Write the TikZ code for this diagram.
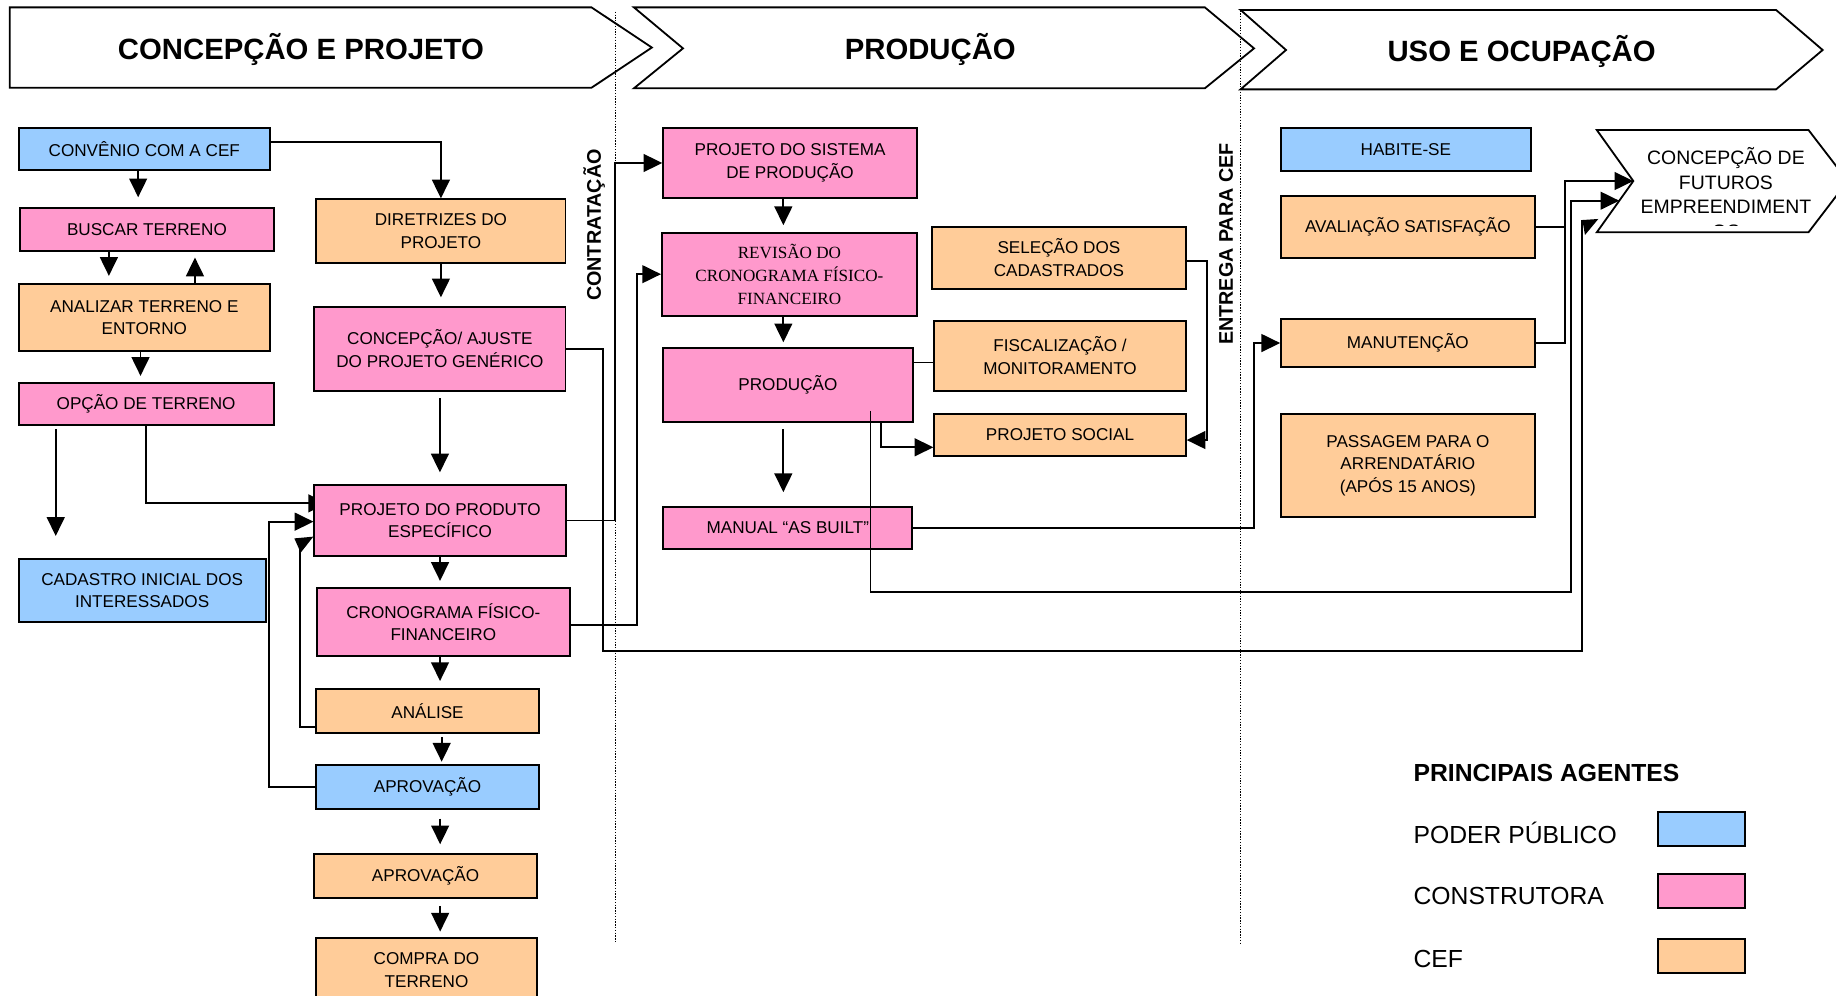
\documentclass[tikz,border=0pt]{standalone}
\usepackage{fontspec}
\setmainfont{Liberation Sans}
\newfontfamily\serifbox{Liberation Serif}
\usetikzlibrary{arrows.meta,calc}
\definecolor{cblue}{HTML}{99CCFF}
\definecolor{cpink}{HTML}{FF99CC}
\definecolor{corange}{HTML}{FFCC99}
\pgfdeclarelayer{bg}
\pgfsetlayers{bg,main}
\tikzset{
  box/.style={draw, line width=1.1pt, inner sep=0pt, align=center, font=\fontsize{10.4}{13.7}\selectfont},
  sz/.style 2 args={minimum width=#1*0.025cm, minimum height=#2*0.025cm},
  pb/.style={box, fill=cblue},
  ct/.style={box, fill=cpink},
  cf/.style={box, fill=corange},
  conn/.style={line width=1.1pt},
  arr/.style={conn, -{Triangle[length=0.4cm,width=0.38cm]}},
  hdr/.style={draw, line width=1.1pt, fill=white},
  dotline/.style={line width=0.7pt, dash pattern=on 0.8pt off 0.9pt},
  title/.style={font=\bfseries\fontsize{17.8}{20}\selectfont},
  vlabel/.style={rotate=90, font=\bfseries\fontsize{12}{14}\selectfont},
  legtext/.style={anchor=base west, inner sep=0pt, font=\fontsize{15}{18}\selectfont},
}
\begin{document}
\begin{tikzpicture}[x=0.025cm, y=-0.025cm]
\useasboundingbox (0,0) rectangle (1568,850);
\clip (0,0) rectangle (1568,850);

% ---------- phase headers ----------
\draw[hdr] (8.4,6.3) -- (505.2,6.3) -- (556.7,40.6) -- (505.2,74.9) -- (8.4,74.9) -- cycle;
\draw[hdr] (541.4,6.3) -- (1029,6.3) -- (1071,41.3) -- (1029,75.4) -- (541.4,75.4) -- (583.3,41.3) -- cycle;
\draw[hdr] (1059.5,8.5) -- (1516.8,8.5) -- (1556.6,42.7) -- (1516.8,76.3) -- (1059.5,76.3) -- (1098.3,42.7) -- cycle;
\node[title] (h1) at (257,42) {CONCEPÇÃO E PROJETO};
\node[title] (h2) at (794.5,42) {PRODUÇÃO};
\node[title] (h3) at (1299.5,44) {USO E OCUPAÇÃO};

% ---------- dotted milestone lines ----------
\draw[dotline] (525.4,10) -- (525.4,805.6);
\draw[dotline] (1059.5,9) -- (1059.5,805.6);
\node[vlabel] (contr) at (507.4,192.2) {CONTRATAÇÃO};
\node[vlabel] (entr) at (1047,208.5) {ENTREGA PARA CEF};

% ---------- future projects shape ----------
\draw[hdr] (1363.7,111) -- (1544.5,111) -- (1578,154.6) -- (1544.5,198.4) -- (1363.7,198.4) -- (1394.9,154.6) -- cycle;
\coordinate (notch) at (1394.9,154.6);
\coordinate (fin2) at (1382.9,171.4);
\coordinate (fin3) at (1350.8,188);
\begin{scope}
  \clip (1360,105) rectangle (1570,192.8);
  \node[align=center, inner sep=0pt, font=\fontsize{11.8}{14.94}\selectfont] (fut) at (1474,165) {CONCEPÇÃO DE\\FUTUROS\\EMPREENDIMENT\\OS};
\end{scope}

% ---------- boxes ----------
\node[pb, sz={214.7}{35.9}] (conv) at (123.25,127.55) {CONVÊNIO COM A CEF};
\node[ct, sz={217}{36.7}] (busc) at (125.5,196) {BUSCAR TERRENO};
\node[cf, sz={214.7}{56.7}] (anal) at (123.25,271.15) {ANALIZAR TERRENO E\\ENTORNO};
\node[ct, sz={217.8}{35.6}] (opc) at (124.8,345.2) {OPÇÃO DE TERRENO};
\node[pb, sz={211}{53.2}] (cad) at (121.4,504.3) {CADASTRO INICIAL DOS\\INTERESSADOS};

\node[cf, sz={212.7}{54.7}] (dir) at (376.55,197.55) {DIRETRIZES DO\\PROJETO};
\node[ct, sz={214.4}{71.8}] (concep) at (375.7,297.8) {CONCEPÇÃO/ AJUSTE\\DO PROJETO GENÉRICO};
\node[ct, sz={214.6}{60.6}] (prod) at (375.8,444.5) {PROJETO DO PRODUTO\\ESPECÍFICO};
\node[ct, sz={216.4}{57.7}] (crono) at (378.6,531.35) {CRONOGRAMA FÍSICO-\\FINANCEIRO};
\node[cf, sz={189.8}{37.3}] (anali) at (365.1,607.05) {ANÁLISE};
\node[pb, sz={189.8}{37.9}] (aprova) at (365.1,672.25) {APROVAÇÃO};
\node[cf, sz={189.8}{37.8}] (aprovb) at (363.4,748.3) {APROVAÇÃO};
\node[cf, sz={188.1}{55.4}] (compra) at (364.25,828.5) {COMPRA DO\\TERRENO};

\node[ct, sz={216.7}{59.2}] (sist) at (674.75,139.2) {PROJETO DO SISTEMA\\DE PRODUÇÃO};
\node[ct, sz={217.8}{70.9}, font=\serifbox\fontsize{10.4}{13.9}\selectfont] (rev) at (674.2,234.15) {REVISÃO DO\\CRONOGRAMA FÍSICO-\\FINANCEIRO};
\node[ct, sz={213}{62.6}] (producao) at (672.9,328.8) {PRODUÇÃO};
\node[ct, sz={212.6}{36.2}] (manual) at (672.8,450.8) {MANUAL “AS BUILT”};
\node[cf, sz={216.7}{53.2}] (sel) at (904.35,220.2) {SELEÇÃO DOS\\CADASTRADOS};
\node[cf, sz={214.8}{59.8}] (fisc) at (905.3,303.8) {FISCALIZAÇÃO /\\MONITORAMENTO};
\node[cf, sz={214.8}{35.8}] (social) at (905.3,371.5) {PROJETO SOCIAL};

\node[pb, sz={213.1}{36.2}] (habite) at (1200.65,127.7) {HABITE-SE};
\node[cf, sz={216.5}{52.6}] (aval) at (1202.35,193.7) {AVALIAÇÃO SATISFAÇÃO};
\node[cf, sz={216.5}{40.5}] (manut) at (1202.35,292.95) {MANUTENÇÃO};
\node[cf, sz={216.5}{88.2}] (pass) at (1202.35,397.7) {PASSAGEM PARA O\\ARRENDATÁRIO\\(APÓS 15 ANOS)};

% ---------- connectors: left column ----------
\draw[arr,shorten >=0.21cm] (118,0 |- conv.south) -- (118,0 |- busc.north);
\draw[arr,shorten >=0.16cm] (93,0 |- busc.south) -- (93,0 |- anal.north);
\draw[arr,shorten >=0.12cm] (166.5,0 |- anal.north) -- (166.5,0 |- busc.south);
\draw[arr,shorten >=0.14cm] (120,0 |- anal.south) -- (120,0 |- opc.north);
\draw[arr,shorten <=0.07cm,shorten >=0.48cm] (47.6,0 |- opc.south) -- (47.6,0 |- cad.north);
\begin{pgfonlayer}{bg}
  \draw[arr,shorten >=-0.29cm] (125,0 |- opc.south) |- ([yshift=0.365cm]prod.west);
\end{pgfonlayer}

% ---------- connectors: design column ----------
\draw[arr] ([yshift=0.164cm]conv.east) -| (dir.north);
\draw[arr,shorten >=0.18cm] (dir.south) -- (dir.south |- concep.north);
\draw[arr,shorten <=0.14cm,shorten >=0.25cm] (concep.south) -- (concep.south |- prod.north);
\draw[arr,shorten >=0.14cm] (prod.south) -- (prod.south |- crono.north);
\draw[arr,shorten >=0.15cm] (prod.south |- crono.south) -- (prod.south |- anali.north);
\draw[arr,shorten <=0.08cm,shorten >=0.05cm] (377.2,0 |- anali.south) -- (377.2,0 |- aprova.north);
\draw[arr,shorten <=0.18cm,shorten >=0.19cm] (375.9,0 |- aprova.south) -- (375.9,0 |- aprovb.north);
\draw[arr,shorten <=0.14cm,shorten >=0.11cm] (375.9,0 |- aprovb.south) -- (375.9,0 |- compra.north);
% feedback loops
\coordinate (fb1) at (256.2,460);
\draw[conn] ([yshift=-0.339cm]anali.west) -| (fb1);
\fill (251.4,459.8) -- (267.6,458.3) -- (256.8,472) -- cycle;
\draw[arr] (aprova.west) -| (229.6,445.5) -- (prod.west |- 0,445.5);

% ---------- connectors into production ----------
\draw[arr] (prod.east) -| (525,0 |- sist.west) -- (sist.west);
\draw[arr] ([yshift=-0.061cm]crono.east) -| (544,0 |- rev.west) -- (rev.west);
\draw[conn] (concep.east) -| (514.7,556) -- (1350.8,556) -- (fin3);
\fill (1351.4,187.9) -- (1365,187) -- (1353.6,200.7) -- cycle;

\draw[arr,shorten >=0.14cm] (669,0 |- sist.south) -- (669,0 |- rev.north);
\draw[arr,shorten >=0.11cm] (669,0 |- rev.south) -- (669,0 |- producao.north);
\draw[arr,shorten <=0.14cm,shorten >=0.29cm] (669,0 |- producao.south) -- (669,0 |- manual.north);
\draw[conn] (producao.east |- 0,309.5) -- (fisc.west |- 0,309.5);
\draw[arr] (752.3,0 |- producao.south) |- (social.west |- 0,382);
\draw[arr] ([yshift=-0.06cm]sel.east) -| (1031,375.8) -- (social.east |- 0,375.8);
\draw[arr] (manual.east) -| (1071,0 |- manut.west) -- (manut.west);
\draw[arr] ($(743.5,0 |- producao.south)+(0,-10)$) -- (743.5,505.9) -| (1342,171.4) -- (fin2);

% ---------- use and occupation ----------
\draw[conn] (aval.east) -- (1336.7,0 |- aval.east);
\draw[arr] (manut.east) -| (1336.7,154.6) -- (notch);

% ---------- legend ----------
\node[legtext, font=\bfseries\fontsize{15}{18}\selectfont] (legt) at (1207,667.6) {PRINCIPAIS AGENTES};
\node[legtext] (lpb) at (1207,720.2) {PODER PÚBLICO};
\node[legtext] (lct) at (1207,772.8) {CONSTRUTORA};
\node[legtext] (lcf) at (1207,826.1) {CEF};
\node[pb, sz={74.6}{28.4}] (spb) at (1453,708) {};
\node[ct, sz={74.6}{28.4}] (sct) at (1453,760.95) {};
\node[cf, sz={74.6}{28.4}] (scf) at (1453,816.45) {};
\end{tikzpicture}
\end{document}
